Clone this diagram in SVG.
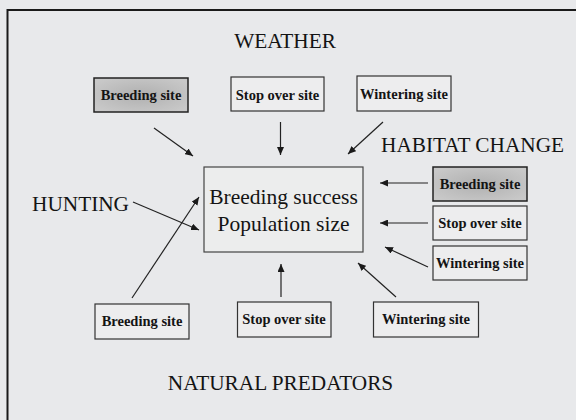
<svg xmlns="http://www.w3.org/2000/svg" width="576" height="420" viewBox="0 0 576 420">
<defs>
<marker id="ah" markerUnits="userSpaceOnUse" markerWidth="9" markerHeight="7" refX="8" refY="3.5" orient="auto">
<path d="M0,0 L8,3.5 L0,7 Z" fill="#1a1a1a"/>
</marker>
<radialGradient id="gray" cx="50%" cy="50%" r="60%">
<stop offset="0" stop-color="#b0b0b0"/>
<stop offset="1" stop-color="#c8c8c8"/>
</radialGradient>
</defs>
<style>
.big{font-family:"Liberation Serif","Times New Roman",serif;font-size:21.3px;fill:#141414}
.small{font-family:"Liberation Serif","Times New Roman",serif;font-size:14.5px;font-weight:bold;fill:#141414;text-anchor:middle}
.box{fill:#ededee;stroke:#333;stroke-width:1.2}
.gbox{fill:url(#gray);stroke:#222;stroke-width:1.5}
.main{fill:#eceded;stroke:#444;stroke-width:1.2}
.con line{stroke:#222;stroke-width:1.2;marker-end:url(#ah)}
</style>
<rect width="576" height="420" fill="#e8e9eb"/>
<path d="M7.5,420 V10 H576" fill="none" stroke="#1a1a1a" stroke-width="2"/>

<text class="big" x="285" y="48" text-anchor="middle">WEATHER</text>
<text class="big" x="381" y="152">HABITAT CHANGE</text>
<text class="big" x="32" y="211">HUNTING</text>
<text class="big" x="280.5" y="390" text-anchor="middle">NATURAL PREDATORS</text>

<g id="center">
<rect class="main" x="204" y="167" width="159" height="85"/>
<text class="big" x="283.5" y="204" text-anchor="middle" style="font-size:21.5px">Breeding success</text>
<text class="big" x="283.5" y="231" text-anchor="middle" style="font-size:21.5px">Population size</text>
</g>

<g id="w-breeding"><rect class="gbox" x="94" y="78" width="94" height="34"/><text class="small" x="141" y="100">Breeding site</text></g>
<g id="w-stopover"><rect class="box" x="231" y="77" width="93" height="34"/><text class="small" x="277.5" y="99.5">Stop over site</text></g>
<g id="w-wintering"><rect class="box" x="357" y="76" width="94" height="35"/><text class="small" x="404" y="98.5">Wintering site</text></g>

<g id="h-breeding"><rect class="gbox" x="433" y="167" width="94" height="34"/><text class="small" x="480" y="189">Breeding site</text></g>
<g id="h-stopover"><rect class="box" x="433" y="206" width="94" height="34"/><text class="small" x="480" y="228">Stop over site</text></g>
<g id="h-wintering"><rect class="box" x="433" y="246" width="94" height="34"/><text class="small" x="480" y="268">Wintering site</text></g>

<g id="p-breeding"><rect class="box" x="95" y="304" width="94" height="35"/><text class="small" x="142" y="326">Breeding site</text></g>
<g id="p-stopover"><rect class="box" x="237.5" y="302" width="93.5" height="35"/><text class="small" x="284" y="324">Stop over site</text></g>
<g id="p-wintering"><rect class="box" x="373.5" y="302" width="105" height="35"/><text class="small" x="426" y="324">Wintering site</text></g>

<g class="con" id="connectors">
<line x1="154" y1="128" x2="193" y2="156"/>
<line x1="280.5" y1="122" x2="280.5" y2="155"/>
<line x1="383" y1="122" x2="348" y2="154"/>
<line x1="428" y1="183" x2="380" y2="183"/>
<line x1="428" y1="223" x2="380" y2="223"/>
<line x1="428" y1="267" x2="385" y2="247"/>
<line x1="133" y1="202" x2="199" y2="230"/>
<line x1="132" y1="298" x2="199" y2="197"/>
<line x1="281" y1="297" x2="281" y2="264"/>
<line x1="396" y1="297" x2="358" y2="263"/>
</g>
</svg>
